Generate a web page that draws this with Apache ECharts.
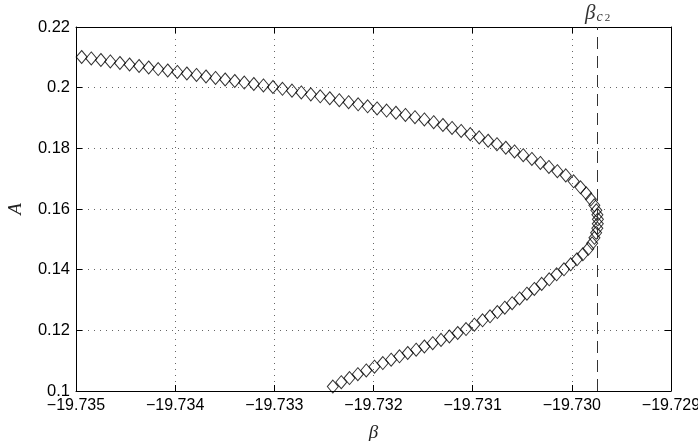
<!DOCTYPE html>
<html>
<head>
<meta charset="utf-8">
<title>Fold of A against beta</title>
<script src="https://cdn.jsdelivr.net/npm/echarts@6/dist/echarts.min.js"></script>
<style>
  html, body { margin: 0; padding: 0; background: #fff; }
  #chart { width: 698px; height: 441px; }
</style>
</head>
<body>
<div id="chart"></div>
<script>
// Continuation branch approaching the fold (large amplitude side)
const betaUpper = [
  -19.734943, -19.734846, -19.734749, -19.734654, -19.734557, -19.734460, -19.734364,
  -19.734267, -19.734171, -19.734075, -19.733978, -19.733882, -19.733785, -19.733689,
  -19.733593, -19.733496, -19.733399, -19.733303, -19.733207, -19.733110, -19.733014,
  -19.732918, -19.732822, -19.732728, -19.732632, -19.732537, -19.732441, -19.732345,
  -19.732251, -19.732155, -19.732059, -19.731964, -19.731868, -19.731774, -19.731678,
  -19.731582, -19.731487, -19.731393, -19.731300, -19.731208, -19.731116, -19.731024,
  -19.730934, -19.730844, -19.730755, -19.730666, -19.730578, -19.730490, -19.730403,
  -19.730317, -19.730231, -19.730146, -19.730061, -19.729982, -19.729912, -19.729855,
  -19.729808, -19.729773, -19.729753, -19.729742, -19.729737
];
const ampUpper = [
  0.21011, 0.20962, 0.20912, 0.20863, 0.20813, 0.20764, 0.20714,
  0.20665, 0.20615, 0.20566, 0.20517, 0.20467, 0.20418, 0.20368,
  0.20319, 0.20269, 0.20220, 0.20170, 0.20121, 0.20072, 0.20022,
  0.19963, 0.19902, 0.19841, 0.19779, 0.19715, 0.19651, 0.19586,
  0.19520, 0.19452, 0.19384, 0.19315, 0.19245, 0.19173, 0.19101,
  0.19028, 0.18954, 0.18863, 0.18769, 0.18672, 0.18572, 0.18468,
  0.18361, 0.18250, 0.18136, 0.18019, 0.17899, 0.17775, 0.17649,
  0.17518, 0.17385, 0.17248, 0.17108, 0.16913, 0.16716, 0.16518,
  0.16320, 0.16122, 0.15957, 0.15809, 0.15661
];
// Branch leaving the fold (small amplitude side)
const betaLower = [
  -19.729738, -19.729743, -19.729755, -19.729772, -19.729795, -19.729834, -19.729889,
  -19.729948, -19.730011, -19.730079, -19.730153, -19.730228, -19.730304, -19.730378,
  -19.730453, -19.730527, -19.730602, -19.730676, -19.730751, -19.730825, -19.730900,
  -19.730983, -19.731067, -19.731151, -19.731235, -19.731319, -19.731403, -19.731487,
  -19.731570, -19.731655, -19.731738, -19.731822, -19.731906, -19.731990, -19.732073,
  -19.732158, -19.732242, -19.732325, -19.732410
];
const ampLower = [
  0.15512, 0.15364, 0.15216, 0.15051, 0.14869, 0.14688, 0.14507,
  0.14342, 0.14177, 0.14012, 0.13848, 0.13683, 0.13531, 0.13366,
  0.13208, 0.13050, 0.12895, 0.12746, 0.12601, 0.12463, 0.12331,
  0.12186, 0.12041, 0.11912, 0.11797, 0.11685, 0.11576, 0.11467,
  0.11362, 0.11253, 0.11144, 0.11032, 0.10920, 0.10801, 0.10679,
  0.10554, 0.10426, 0.10290, 0.10145
];
// Critical value marked by the dashed line
const betaC2 = -19.72974;

// Axis ranges and tick steps
const xRange = [-19.735, -19.729];
const xStep = 0.001;
const yRange = [0.1, 0.22];
const yStep = 0.02;

const points = betaUpper.map((b, i) => [b, ampUpper[i]])
  .concat(betaLower.map((b, i) => [b, ampLower[i]]));

const sansFont = '"Liberation Sans", Arial, Helvetica, sans-serif';
const serifFont = '"Liberation Serif", "Times New Roman", serif';
const minus = s => String(s).replace('-', '\u2212');

const gridDots = { color: '#666', width: 1, type: [1, 5] };
const boxLine = { show: true, onZero: false, lineStyle: { color: '#000', width: 1 } };
const inTicks = { show: true, inside: true, length: 6, lineStyle: { color: '#000', width: 1 } };

const chart = echarts.init(document.getElementById('chart'), null, { renderer: 'canvas' });
chart.setOption({
  animation: false,
  backgroundColor: '#fff',
  grid: { left: 76, right: 27, top: 27, bottom: 50, containLabel: false, outerBoundsMode: 'none' },
  xAxis: [
    {
      type: 'value', position: 'bottom',
      min: xRange[0], max: xRange[1], interval: xStep,
      axisLine: boxLine, axisTick: inTicks,
      splitLine: { show: true, lineStyle: gridDots },
      axisLabel: {
        color: '#000', fontFamily: sansFont, fontSize: 16, margin: 7,
        showMinLabel: true, showMaxLabel: true, hideOverlap: false,
        formatter: v => minus(v.toFixed(3))
      },
      name: 'β', nameLocation: 'middle', nameGap: 32,
      nameTextStyle: { fontFamily: serifFont, fontStyle: 'italic', fontSize: 19, color: '#222' }
    },
    {
      type: 'value', position: 'top',
      min: xRange[0], max: xRange[1], interval: xStep,
      axisLine: boxLine, axisTick: inTicks,
      axisLabel: { show: false }, splitLine: { show: false }
    }
  ],
  yAxis: [
    {
      type: 'value', position: 'left',
      min: yRange[0], max: yRange[1], interval: yStep,
      axisLine: boxLine, axisTick: inTicks,
      splitLine: { show: true, lineStyle: gridDots },
      axisLabel: {
        color: '#000', fontFamily: sansFont, fontSize: 16.5, margin: 6,
        showMinLabel: true, showMaxLabel: true, hideOverlap: false,
        formatter: v => String(parseFloat(v.toFixed(2)))
      },
      name: 'A', nameLocation: 'middle', nameGap: 51, nameRotate: 90,
      nameTextStyle: { fontFamily: serifFont, fontStyle: 'italic', fontSize: 19, color: '#222' }
    },
    {
      type: 'value', position: 'right',
      min: yRange[0], max: yRange[1], interval: yStep,
      axisLine: boxLine, axisTick: inTicks,
      axisLabel: { show: false }, splitLine: { show: false }
    }
  ],
  series: [
    {
      type: 'scatter',
      xAxisIndex: 0, yAxisIndex: 0,
      data: points,
      symbol: 'diamond',
      symbolSize: [11, 13],
      itemStyle: { color: 'rgba(0,0,0,0)', borderColor: '#000', borderWidth: 1 },
      silent: true,
      markLine: {
        silent: true,
        precision: 6,
        symbol: ['none', 'none'],
        animation: false,
        lineStyle: { color: '#333', width: 1, type: [12, 7] },
        label: {
          show: true, position: 'end', distance: 3,
          formatter: '{b|β}{s|c}{t|2}',
          rich: {
            b: { fontFamily: serifFont, fontStyle: 'italic', fontSize: 21, lineHeight: 22, color: '#333', verticalAlign: 'bottom' },
            s: { fontFamily: serifFont, fontStyle: 'italic', fontSize: 14, lineHeight: 12, color: '#333', verticalAlign: 'bottom', padding: [0, 0, 0, 1] },
            t: { fontFamily: serifFont, fontSize: 11, lineHeight: 10, color: '#333', verticalAlign: 'bottom', padding: [0, 0, 0, 2] }
          }
        },
        data: [{ xAxis: betaC2 }]
      }
    }
  ]
});
</script>
</body>
</html>
